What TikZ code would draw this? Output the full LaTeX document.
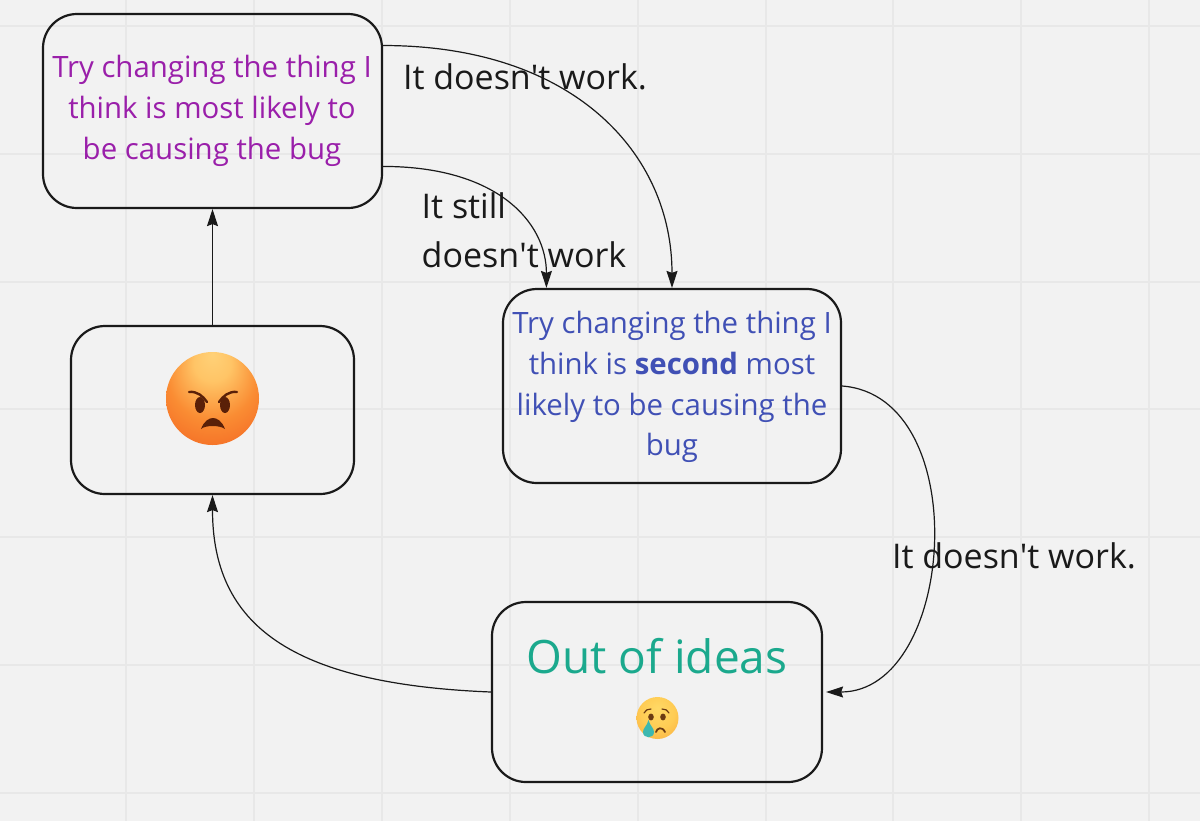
\documentclass[tikz,border=0pt]{standalone}
\usepackage{fontspec}
\setmainfont{Open Sans}
\usetikzlibrary{arrows.meta}
\definecolor{paper}{HTML}{F2F2F2}
\definecolor{gridline}{HTML}{E8E8E8}
\definecolor{inkline}{HTML}{1A1A1A}
\definecolor{firstcol}{HTML}{9A1FAA}
\definecolor{secondcol}{HTML}{4050B5}
\definecolor{ideascol}{HTML}{1BA98D}
\definecolor{angryink}{HTML}{5A2008}
\definecolor{sadink}{HTML}{6B3A12}
\definecolor{tearcol}{HTML}{3DB8B0}
\pgfdeclareradialshading{angryball}{\pgfpoint{0bp}{24bp}}{rgb(0bp)=(1,.82,.47); rgb(10bp)=(1,.77,.40); rgb(24bp)=(.98,.55,.20); rgb(40bp)=(.95,.39,.13); rgb(50bp)=(.93,.33,.12)}
\pgfdeclareradialshading{sadball}{\pgfpoint{0bp}{12bp}}{rgb(0bp)=(1,.85,.40); rgb(20bp)=(1,.80,.33); rgb(38bp)=(.98,.68,.25); rgb(50bp)=(.95,.58,.18)}
\tikzset{
  box/.style={draw=inkline, line width=1.1pt, rounded corners=17pt, inner sep=0pt},
  flow/.style={draw=inkline, line width=0.6pt, -{Stealth[length=8.5pt,width=5.5pt,inset=1pt]}},
  notetext/.style={text=inkline, font=\fontsize{17}{24.5}\selectfont, align=left},
  boxtext/.style={font=\fontsize{14.7}{20.4}\selectfont, align=center},
}
\newcommand{\apos}{\textquotesingle}
\begin{document}
\begin{tikzpicture}[x=0.5pt,y=-0.5pt]
  \useasboundingbox (0,0) rectangle (1200,821);
  \fill[paper] (0,0) rectangle (1200,821);

  % Draw grid lines
  \foreach \x in {126,254,382,510,638,766,893,1021,1149}
    \draw[gridline, line width=0.7pt] (\x,0) -- (\x,821);
  \foreach \y in {26,154,282,409,537,665,793}
    \draw[gridline, line width=0.7pt] (0,\y) -- (1200,\y);

  % Draw boxes
  \node[box, minimum width=169.5pt, minimum height=97pt] (first) at (212.5,111) {};
  \node[box, minimum width=169pt, minimum height=97pt] (second) at (672,386) {};
  \node[box, minimum width=165pt, minimum height=90pt] (ideas) at (657,692) {};
  \node[box, minimum width=141.5pt, minimum height=84pt] (angry) at (212.5,410) {};

  % Draw connectors
  \draw[flow] (first.21) .. controls +(190,0) and +(0,-135) .. (second.north);
  \draw[flow] (first.-18) .. controls +(115,0) and +(0,-65) .. (second.142);
  \draw[flow, shorten >=1.5pt] (second.east) .. controls +(133,10) and +(133,0) .. (ideas.east);
  \draw[flow] (ideas.west) .. controls +(-200,-8) and +(0,130) .. (angry.south);
  \draw[flow] (angry.north) -- (first.south);

  % Box texts
  \node[boxtext, text=firstcol] (firsttext) at (212,111) {Try changing the thing I\\think is most likely to\\be causing the bug};
  \node[boxtext, text=secondcol] (secondtext) at (672,387) {Try changing the thing I\\think is \textbf{second} most\\likely to be causing the\\bug};
  \node[text=ideascol, font=\fontsize{23}{28}\selectfont] (ideastext) at (657,656) {Out of ideas};

  % Connector labels
  \node[notetext] (label1) at (525,77) {It doesn\apos t work.};
  \node[notetext] (label2) at (524,230) {It still\\doesn\apos t work};
  \node[notetext] (label3) at (1014,556) {It doesn\apos t work.};

  % Angry face
  \shade[shading=angryball] (212.5,398.5) circle[radius=46.5];
  \fill[angryink] (200,405) ellipse[x radius=5, y radius=8];
  \fill[angryink] (225,405) ellipse[x radius=5, y radius=8];
  \draw[angryink, line width=1.2pt, line cap=round] (189,392) .. controls (197,391) and (203,396) .. (207,402);
  \draw[angryink, line width=1.2pt, line cap=round] (237,392) .. controls (229,391) and (223,396) .. (219,402);
  \fill[angryink] (201,429) .. controls (204,421) and (209,418) .. (213,418) .. controls (217,418) and (222,421) .. (225,429) .. controls (220,425) and (205,425) .. cycle;

  % Crying face
  \shade[shading=sadball] (657.5,718) circle[radius=21];
  \fill[sadink] (651,717) ellipse[x radius=2.8, y radius=3.4];
  \fill[sadink] (663,717) ellipse[x radius=2.8, y radius=3.4];
  \draw[sadink, line width=0.6pt, line cap=round] (644,713) .. controls (645,710) and (648,709) .. (651,709);
  \draw[sadink, line width=0.6pt, line cap=round] (669,713) .. controls (668,710) and (665,709) .. (662,709);
  \draw[sadink, line width=0.9pt, line cap=round] (656,732) .. controls (657,728) and (662,726) .. (665,732);
  \fill[tearcol] (648.5,720) .. controls (650,726) and (654,728) .. (654,732) .. controls (654,739) and (643,739) .. (643,732) .. controls (643,728) and (647,726) .. cycle;
\end{tikzpicture}
\end{document}
